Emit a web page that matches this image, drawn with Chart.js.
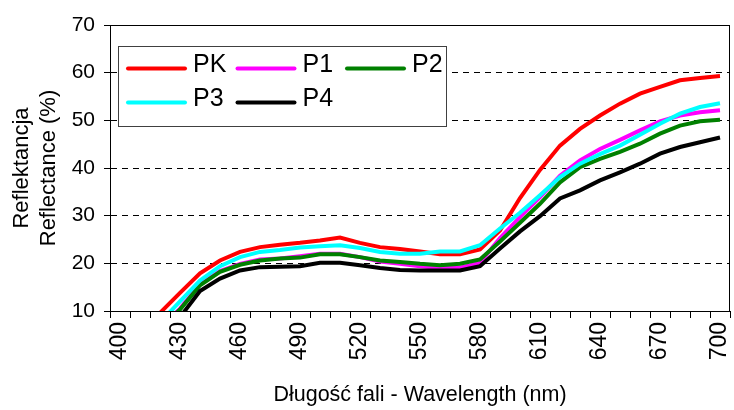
<!DOCTYPE html>
<html>
<head>
<meta charset="utf-8">
<title>Reflectance</title>
<script src="https://cdn.jsdelivr.net/npm/chart.js@4.4.1/dist/chart.umd.min.js"></script>
<style>
  body { margin: 0; background: #fff; }
  #chart { display: block; }
</style>
</head>
<body>
<canvas id="chart" width="734" height="410"></canvas>
<script>
// Wavelength categories (nm)
const wavelengths = [400, 410, 420, 430, 440, 450, 460, 470, 480, 490, 500, 510, 520, 530, 540, 550,
                     560, 570, 580, 590, 600, 610, 620, 630, 640, 650, 660, 670, 680, 690, 700];
// Only every third wavelength gets a label
const xTickLabels = [400, 430, 460, 490, 520, 550, 580, 610, 640, 670, 700];
const yTicks = [10, 20, 30, 40, 50, 60, 70];

// Reflectance values (%)
const pk = [5.0, 7.0, 9.6, 13.8, 17.9, 20.6, 22.4, 23.4, 23.9, 24.3, 24.8, 25.4, 24.3, 23.4, 23.0, 22.5,
            21.9, 21.9, 22.9, 26.9, 33.7, 39.6, 44.7, 48.2, 51.0, 53.5, 55.6, 57.0, 58.4, 58.9, 59.3];
const p1 = [3.0, 4.5, 6.5, 10.5, 15.6, 18.4, 19.9, 20.8, 21.0, 21.5, 22.0, 22.0, 21.3, 20.4, 19.9, 19.4,
            19.0, 19.1, 20.1, 25.3, 29.7, 33.9, 38.4, 41.6, 44.0, 45.9, 47.9, 49.8, 51.0, 51.7, 52.1];
const p2 = [3.0, 4.5, 6.3, 10.3, 15.4, 18.2, 19.7, 20.6, 21.0, 21.2, 21.9, 21.9, 21.3, 20.6, 20.3, 19.9,
            19.6, 19.9, 20.8, 24.6, 28.5, 32.5, 37.0, 40.2, 41.9, 43.4, 45.1, 47.2, 48.9, 49.8, 50.1];
const p3 = [4.0, 5.5, 7.6, 12.0, 16.4, 19.4, 21.3, 22.4, 22.8, 23.3, 23.6, 23.8, 23.2, 22.4, 22.0, 22.0,
            22.5, 22.5, 23.8, 27.3, 30.6, 34.3, 38.1, 40.9, 42.9, 44.7, 47.0, 49.3, 51.4, 52.8, 53.6];
const p4 = [2.0, 3.5, 5.0, 8.7, 14.2, 16.8, 18.5, 19.2, 19.3, 19.4, 20.1, 20.1, 19.6, 19.0, 18.6, 18.5,
            18.5, 18.5, 19.4, 23.1, 26.7, 29.9, 33.6, 35.3, 37.4, 39.1, 40.9, 43.0, 44.4, 45.4, 46.4];

const seriesNames = ['PK', 'P1', 'P2', 'P3', 'P4'];
const seriesData = [pk, p1, p2, p3, p4];
const seriesColors = ['#ff0000', '#ff00ff', '#008000', '#00ffff', '#000000'];

Chart.defaults.font.family = "'Liberation Sans', Arial, sans-serif";
Chart.defaults.color = '#000';

// Legend box drawn inside the plot, two rows of three
const legendBox = {
    id: 'legendBox',
    afterDatasetsDraw(chart) {
        const { ctx, chartArea } = chart;
        const x0 = chartArea.left + 8;
        const y0 = chartArea.top + 21;
        ctx.save();
        ctx.fillStyle = '#fff';
        ctx.fillRect(x0, y0, 328, 80);
        ctx.strokeStyle = '#404040';
        ctx.lineWidth = 1;
        ctx.strokeRect(Math.round(x0) + 0.5, Math.round(y0) + 0.5, 328, 80);
        ctx.font = "25px 'Liberation Sans', Arial, sans-serif";
        ctx.textBaseline = 'middle';
        ctx.fillStyle = '#000';
        chart.data.datasets.forEach((ds, i) => {
            const col = i % 3;
            const row = Math.floor(i / 3);
            const lx = x0 + 10 + col * 109.5;
            const ly = y0 + 22.5 + row * 34;
            ctx.strokeStyle = ds.borderColor;
            ctx.lineWidth = 4;
            ctx.lineCap = 'round';
            ctx.beginPath();
            ctx.moveTo(lx, ly);
            ctx.lineTo(lx + 57, ly);
            ctx.stroke();
            ctx.fillText(ds.label, lx + 65, ly - 3);
        });
        ctx.restore();
    }
};

// Top and right edges of the plot frame
const plotFrame = {
    id: 'plotFrame',
    afterDraw(chart) {
        const { ctx, chartArea } = chart;
        ctx.save();
        ctx.strokeStyle = '#000';
        ctx.lineWidth = 1;
        ctx.beginPath();
        ctx.moveTo(Math.round(chartArea.left) + 0.5, Math.round(chartArea.top) + 0.5);
        ctx.lineTo(Math.round(chartArea.right) - 0.5, Math.round(chartArea.top) + 0.5);
        ctx.lineTo(Math.round(chartArea.right) - 0.5, Math.round(chartArea.bottom) + 0.5);
        ctx.stroke();
        ctx.restore();
    }
};

const datasets = seriesNames.map((name, i) => ({
    label: name,
    data: seriesData[i],
    borderColor: seriesColors[i],
    backgroundColor: seriesColors[i],
    borderWidth: 4,
    pointRadius: 0,
    tension: 0,
    fill: false,
    clip: 0,
    order: seriesNames.length - i   // PK drawn first, P4 on top
}));

new Chart(document.getElementById('chart'), {
    type: 'line',
    data: { labels: wavelengths, datasets: datasets },
    options: {
        responsive: false,
        animation: false,
        layout: { padding: { top: 25, right: 4, left: 0, bottom: 0 } },
        plugins: {
            legend: { display: false },
            tooltip: { enabled: false }
        },
        scales: {
            x: {
                type: 'category',
                offset: true,
                grid: {
                    display: true,
                    offset: true,
                    drawOnChartArea: false,
                    drawTicks: true,
                    tickLength: 7,
                    color: '#000',
                    lineWidth: 1
                },
                border: { display: true, color: '#000', width: 1 },
                ticks: {
                    autoSkip: false,
                    minRotation: 90,
                    maxRotation: 90,
                    padding: 4,
                    color: '#000',
                    font: { size: 23 },
                    callback: function (value, index) {
                        const w = wavelengths[index];
                        return xTickLabels.includes(w) ? String(w) : '';
                    }
                },
                title: {
                    display: true,
                    text: 'Długość fali - Wavelength (nm)',
                    color: '#000',
                    font: { size: 21.5 },
                    padding: { top: 0, bottom: 2 }
                },
                afterFit: s => {
                    s.height = 99;
                    s.paddingLeft = 0;
                    s.paddingRight = 0;
                }
            },
            y: {
                min: yTicks[0],
                max: yTicks[yTicks.length - 1],
                afterBuildTicks: s => { s.ticks = yTicks.map(v => ({ value: v })); },
                grid: {
                    color: '#000',
                    lineWidth: 1,
                    tickLength: 6,
                    tickBorderDash: []
                },
                border: { display: true, color: '#000', width: 1, dash: [6, 5] },
                ticks: { color: '#000', font: { size: 21 }, padding: 9 },
                title: {
                    display: true,
                    text: ['Reflektancja', 'Reflectance (%)'],
                    color: '#000',
                    font: { size: 22, lineHeight: 1.22 },
                    padding: { top: 9, bottom: 0 }
                },
                afterFit: s => {
                    s.width = 110;
                    s.paddingTop = 0;
                    s.paddingBottom = 0;
                }
            }
        }
    },
    plugins: [legendBox, plotFrame]
});
</script>
</body>
</html>
